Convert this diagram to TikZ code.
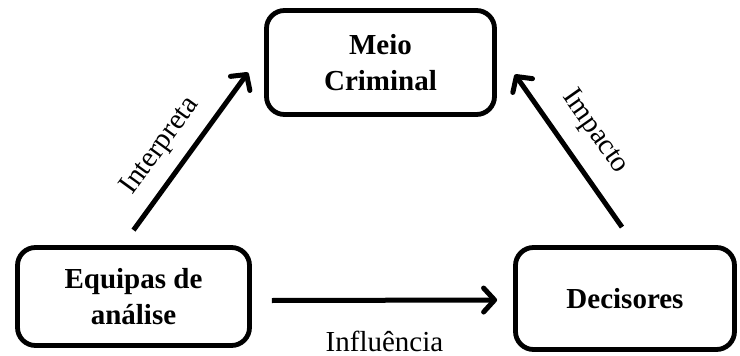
\documentclass[tikz,border=0pt]{standalone}
\usepackage{fontspec}
\setmainfont{Liberation Serif}
\usetikzlibrary{arrows.meta}
\begin{document}
\begin{tikzpicture}[x=1pt,y=-1pt,
  box/.style={draw=black, line width=4.8pt, rounded corners=18pt, align=center,
    font=\fontsize{29}{36}\selectfont\bfseries, inner sep=0pt},
  conn/.style={line width=5pt, -{Straight Barb[length=11pt,width=24pt,line cap=round,line join=round]}},
  lbl/.style={font=\fontsize{29}{34}\selectfont}
]
\useasboundingbox (0,0) rectangle (740,356);
\node[box, minimum width=228pt, minimum height=104pt] (mc) at (380.5,62.5) {Meio\\Criminal};
\node[box, minimum width=232pt, minimum height=98pt] (eq) at (133.5,296.5) {Equipas de\\análise};
\node[box, minimum width=219pt, minimum height=102pt] (dc) at (625,298.5) {Decisores};
\coordinate (a1) at ([yshift=15pt]eq.north);
\coordinate (a2) at ([xshift=-16pt,yshift=-10pt]mc.west);
\coordinate (b1) at ([xshift=-3pt,yshift=18pt]dc.north);
\coordinate (b2) at ([xshift=18pt,yshift=-12pt]mc.east);
\coordinate (c1) at ([xshift=20pt,yshift=-4pt]eq.east);
\coordinate (c2) at ([xshift=-16pt,yshift=-1.5pt]dc.west);
\draw[conn] (a1) -- node[lbl, pos=0.43, sloped, above=9pt] {Interpreta} (a2);
\draw[conn] (b1) -- node[lbl, midway, sloped, above=14pt] {Impacto} (b2);
\draw[conn] (c1) -- node[lbl, midway, below=28pt, inner sep=0pt] {Influência} (c2);
\end{tikzpicture}
\end{document}
